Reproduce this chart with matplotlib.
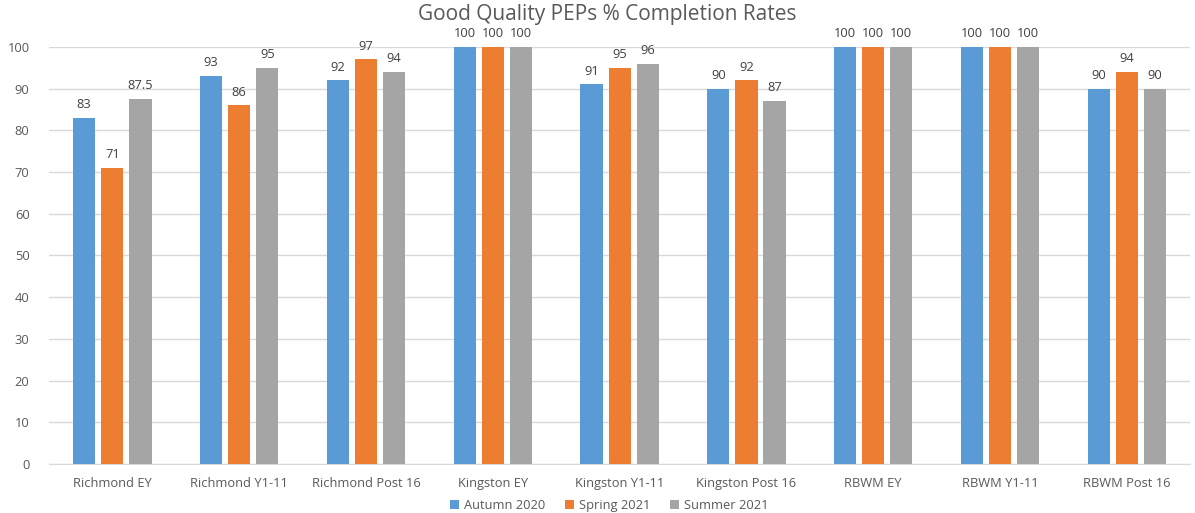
import matplotlib
matplotlib.use("Agg")
import numpy as np
import matplotlib.pyplot as plt

plt.rcParams['font.family'] = ['Open Sans', 'DejaVu Sans']

categories = ['Richmond EY', 'Richmond Y1-11', 'Richmond Post 16', 'Kingston EY',
              'Kingston Y1-11', 'Kingston Post 16', 'RBWM EY', 'RBWM Y1-11', 'RBWM Post 16']
autumn_2020 = [83, 93, 92, 100, 91, 90, 100, 100, 90]
spring_2021 = [71, 86, 97, 100, 95, 92, 100, 100, 94]
summer_2021 = [87.5, 95, 94, 100, 96, 87, 100, 100, 90]

series = [('Autumn 2020', autumn_2020, '#5B9BD5'),
          ('Spring 2021', spring_2021, '#ED7D31'),
          ('Summer 2021', summer_2021, '#A5A5A5')]

fig = plt.figure(figsize=(11.95, 5.13), dpi=100)
ax = fig.add_axes([0.041, 0.0955, 0.955, 0.813])

x = np.arange(len(categories))
w = 0.175
step = 0.222

for i, (name, vals, col) in enumerate(series):
    pos = x + (i - 1) * step
    ax.bar(pos, vals, width=w, color=col, label=name, zorder=3)
    for p, v in zip(pos, vals):
        ax.text(p, v + 1.6, f'{v:g}', ha='center', va='bottom', fontsize=9.3, color='#404040')

ax.set_xlim(-0.5, len(categories) - 0.5)
ax.set_ylim(0, 100)
ax.set_yticks(range(0, 101, 10))
ax.set_xticks(x)
ax.set_xticklabels(categories)
ax.tick_params(axis='both', length=0, colors='#595959', labelsize=9.3)
ax.tick_params(axis='x', pad=9)
ax.tick_params(axis='y', pad=14)
ax.grid(axis='y', color='#D9D9D9', linewidth=1, zorder=0)
ax.grid(axis='x', visible=False)
for s in ['top', 'right', 'left']:
    ax.spines[s].set_visible(False)
ax.spines['bottom'].set_color('#D9D9D9')

fig.text(0.508, 0.972, 'Good Quality PEPs % Completion Rates', ha='center', va='center',
         fontsize=15, color='#595959')

fig.legend(loc='center', bbox_to_anchor=(0.51, 0.015), ncol=3, frameon=False,
           fontsize=9.3, handlelength=0.7, handleheight=0.7, columnspacing=1.5,
           handletextpad=0.4, labelcolor='#595959')

fig.savefig('out.png', dpi=100)
